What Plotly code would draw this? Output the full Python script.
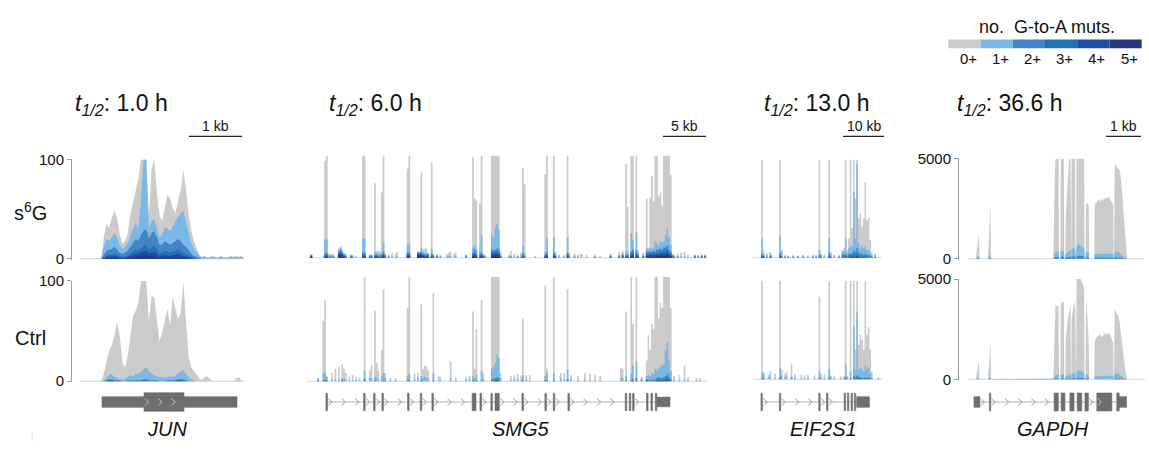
import numpy as np
import plotly.graph_objects as go

W, H = 1149, 449
FONT = "Liberation Sans, Arial, Helvetica, sans-serif"
INK = "#111111"

# ---------------------------------------------------------------- categories
LEVEL_LABELS = ["0+", "1+", "2+", "3+", "4+", "5+"]
LEVEL_COLORS = ["#cbcbcb", "#7ab9e6", "#4583c7", "#2271b5", "#1e4c9f", "#28377c"]
GENES = ["JUN", "SMG5", "EIF2S1", "GAPDH"]
HALF_LIVES = ["1.0", "6.0", "13.0", "36.6"]
SCALE_KB = [1, 5, 10, 1]
Y_MAX = [100, 100, 100, 5000]

# ---------------------------------------------------------------- JUN coverage (50-bp grid, kb)
JUN_X = [round(0.40 + 0.05 * i, 2) for i in range(55)]
JUN_S6G_L0 = [0, 22, 35, 31, 41, 49, 41, 25, 15, 18,
              25, 44, 57, 70, 80, 100, 100, 100, 44, 90,
              100, 67, 44, 38, 51, 64, 61, 51, 46, 57,
              70, 89, 70, 44, 28, 18, 10, 4, 2, 3,
              1, 2, 3, 2, 1, 3, 2, 1, 2, 3,
              2, 3, 2, 3, 0]
JUN_S6G_L1 = [0, 12, 20, 18, 22, 26, 22, 14, 10, 12,
              16, 24, 30, 36, 30, 60, 100, 100, 30, 38,
              40, 30, 22, 24, 32, 30, 28, 32, 38, 42,
              46, 48, 38, 26, 16, 10, 6, 3, 1, 2,
              1, 1, 2, 1, 1, 2, 1, 1, 1, 2,
              1, 2, 1, 2, 0]
JUN_S6G_L2 = [0, 4, 8, 9, 10, 12, 9, 6, 5, 6,
              8, 12, 16, 20, 18, 24, 28, 30, 20, 26,
              28, 22, 14, 14, 18, 16, 14, 16, 18, 20,
              18, 14, 12, 8, 5, 3, 2, 1] + [0] * 17
JUN_S6G_L3 = [0, 1, 3, 4, 4, 5, 4, 3, 2, 3,
              3, 5, 7, 9, 8, 11, 13, 14, 8, 12,
              13, 10, 6, 6, 8, 7, 6, 7, 8, 9,
              8, 6, 5, 3, 2, 1] + [0] * 19
JUN_S6G_L4 = [0, 0, 2, 2, 2, 3, 2, 1, 1, 1,
              2, 3, 4, 5, 5, 6, 7, 8, 5, 6,
              7, 5, 3, 3, 4, 3, 3, 4, 4, 5,
              4, 3, 2, 2, 1] + [0] * 20
JUN_S6G_L5 = [0, 0, 1, 1, 1, 1, 1, 0, 0, 0,
              1, 1, 1, 2, 2, 3, 3, 3, 2, 3,
              3, 2, 1, 1, 2, 1, 1, 1, 2, 2,
              1, 1, 1, 0, 0] + [0] * 20
JUN_CTRL_L0 = [0, 8, 20, 30, 36, 45, 59, 45, 18, 14,
               25, 45, 65, 70, 78, 100, 100, 100, 60, 85,
               84, 60, 40, 48, 62, 72, 55, 84, 72, 62,
               68, 100, 60, 24, 14, 10, 6, 3, 1, 4,
               5, 2, 0, 0, 0, 0, 0, 0, 0, 0,
               0, 3, 4, 1, 0]
JUN_CTRL_L1 = [0, 1, 4, 6, 7, 4, 3, 2, 2, 2,
               4, 6, 5, 7, 8, 9, 12, 14, 10, 8,
               6, 5, 4, 4, 3, 4, 5, 4, 6, 8,
               10, 11, 7, 4, 2, 1] + [0] * 19
JUN_CTRL_L2 = [0, 0, 1, 2, 2, 1, 1, 1, 0, 0,
               1, 1, 1, 1, 1, 1, 2, 2, 1, 1,
               1, 1, 0, 0, 0, 1, 1, 1, 1, 2,
               2, 2, 1] + [0] * 22
JUN_CTRL_L3 = [0, 0, 0, 1, 1, 0, 0, 0, 0, 0,
               0, 0, 0, 0, 0, 0, 0, 0, 0, 0,
               0, 0, 0, 0, 0, 0, 0, 0, 0, 1,
               1] + [0] * 24

# ---------------------------------------------------------------- SMG5 coverage (200-bp bins, kb)
SMG5_S6G_POS = [0.4, 1.8, 2.0, 2.2, 2.4, 2.6, 2.8, 3.0, 3.6, 3.8,
                4.0, 4.2, 4.4, 5.0, 5.2, 5.6, 6.4, 6.6, 7.2, 7.4,
                7.8, 8.0, 8.2, 8.4, 8.6, 8.8, 9.0, 9.4, 9.8, 10.2,
                10.4, 11.6, 11.8, 12.8, 13.0, 13.2, 13.4, 13.6, 13.8, 14.0,
                14.4, 14.6, 15.0, 15.4, 16.2, 16.4, 16.6, 17.0, 17.2, 18.4,
                19.2, 19.4, 19.6, 20.0, 20.2, 20.4, 20.6, 21.4, 21.6, 21.8,
                22.0, 22.2, 22.4, 23.4, 23.6, 24.0, 24.4, 24.8, 25.0, 25.2,
                26.4, 27.6, 27.8, 28.6, 28.8, 29.2, 29.8, 30.2, 30.4, 31.0,
                31.4, 31.8, 32.4, 33.4, 34.0, 35.2, 36.2, 36.6, 37.0, 37.2,
                37.6, 37.8, 38.2, 38.4, 39.0, 39.4, 39.6, 39.8, 40.0, 40.2,
                40.4, 40.6, 40.8, 41.0, 41.2, 41.4, 41.6, 41.8, 42.0, 42.2,
                42.4, 42.6, 43.0, 43.4, 43.8, 44.2, 45.0, 45.4, 45.8, 46.2]
SMG5_S6G_L0 = [3, 2, 95, 100, 4, 3, 4, 3, 8, 11,
               8, 5, 4, 3, 3, 2, 100, 100, 3, 3,
               73, 7, 7, 6, 64, 99, 4, 3, 5, 4,
               6, 87, 100, 6, 6, 84, 8, 9, 9, 5,
               94, 4, 3, 3, 4, 5, 6, 4, 5, 3,
               98, 58, 56, 53, 100, 4, 3, 100, 100, 100,
               100, 100, 6, 3, 7, 4, 3, 5, 88, 72,
               2, 82, 100, 100, 6, 3, 3, 100, 5, 4,
               3, 4, 3, 3, 2, 4, 6, 7, 92, 50,
               100, 100, 100, 8, 5, 58, 10, 59, 80, 55,
               100, 100, 60, 64, 51, 100, 100, 100, 100, 81,
               4, 3, 4, 5, 6, 3, 3, 3, 3, 3]
SMG5_S6G_L1 = [3, 0, 18, 18, 3, 3, 3, 2, 8, 10,
               7, 4, 3, 3, 2, 1, 19, 19, 3, 3,
               6, 5, 4, 4, 5, 15, 3, 2, 2, 1,
               1, 13, 13, 6, 6, 10, 6, 5, 5, 4,
               9, 3, 3, 2, 2, 2, 2, 1, 2, 3,
               10, 12, 8, 6, 22, 3, 2, 22, 20, 30,
               33, 28, 4, 2, 2, 2, 2, 3, 12, 5,
               1, 6, 19, 20, 4, 2, 2, 20, 3, 3,
               2, 3, 1, 2, 1, 3, 3, 5, 7, 5,
               24, 18, 25, 5, 3, 9, 8, 9, 9, 9,
               16, 14, 12, 16, 15, 16, 22, 29, 20, 13,
               3, 2, 2, 2, 2, 1, 3, 2, 3, 3]
SMG5_S6G_L2 = [3, 0, 4, 5, 1, 1, 1, 1, 6, 8,
               5, 3, 2, 2, 1, 0, 5, 5, 2, 2,
               3, 3, 2, 2, 3, 6, 2, 1, 0, 0,
               0, 5, 5, 5, 5, 6, 4, 3, 4, 3,
               4, 2, 2, 1, 0, 0, 0, 0, 0, 2,
               5, 8, 4, 3, 5, 2, 1, 8, 7, 8,
               9, 8, 2, 0, 1, 0, 1, 1, 4, 2,
               0, 3, 5, 5, 2, 0, 0, 5, 1, 1,
               0, 0, 0, 1, 0, 2, 2, 3, 3, 3,
               6, 8, 7, 3, 2, 6, 6, 6, 6, 7,
               6, 8, 8, 9, 8, 10, 10, 12, 8, 6,
               2, 1, 1, 0, 0, 0, 2, 1, 2, 2]
SMG5_S6G_L3 = [2, 0, 2, 3, 0, 0, 0, 0, 4, 6,
               4, 2, 1, 1, 0, 0, 3, 3, 1, 1,
               2, 2, 1, 0, 2, 3, 0, 0, 0, 0,
               0, 3, 3, 4, 4, 4, 3, 2, 2, 2,
               2, 1, 1, 0, 0, 0, 0, 0, 0, 0,
               3, 5, 2, 2, 3, 0, 0, 6, 5, 6,
               6, 5, 1, 0, 0, 0, 0, 0, 2, 0,
               0, 2, 3, 3, 1, 0, 0, 3, 0, 0,
               0, 0, 0, 0, 0, 1, 1, 2, 2, 1,
               4, 5, 4, 2, 1, 4, 4, 4, 4, 5,
               4, 5, 5, 6, 6, 7, 6, 8, 5, 4,
               1, 0, 0, 0, 0, 0, 1, 0, 1, 1]
SMG5_S6G_L4 = [2, 0, 1, 1, 0, 0, 0, 0, 3, 4,
               3, 1, 0, 0, 0, 0, 1, 2, 0, 0,
               1, 1, 0, 0, 1, 2, 0, 0, 0, 0,
               0, 2, 2, 3, 3, 3, 2, 1, 1, 0,
               1, 0, 0, 0, 0, 0, 0, 0, 0, 0,
               2, 3, 1, 0, 2, 0, 0, 4, 3, 4,
               4, 3, 0, 0, 0, 0, 0, 0, 1, 0,
               0, 1, 2, 2, 0, 0, 0, 2, 0, 0,
               0, 0, 0, 0, 0, 0, 0, 1, 1, 0,
               2, 3, 2, 0, 0, 2, 2, 3, 3, 3,
               3, 3, 3, 4, 4, 4, 4, 5, 3, 2,
               0, 0, 0, 0, 0, 0, 0, 0, 0, 0]
SMG5_S6G_L5 = [1, 0, 0, 1, 0, 0, 0, 0, 2, 2,
               1, 0, 0, 0, 0, 0, 0, 1, 0, 0,
               0, 0, 0, 0, 0, 1, 0, 0, 0, 0,
               0, 1, 0, 2, 2, 1, 0, 0, 0, 0,
               0, 0, 0, 0, 0, 0, 0, 0, 0, 0,
               1, 1, 0, 0, 1, 0, 0, 2, 2, 2,
               2, 2, 0, 0, 0, 0, 0, 0, 0, 0,
               0, 0, 0, 1, 0, 0, 0, 0, 0, 0,
               0, 0, 0, 0, 0, 0, 0, 0, 0, 0,
               1, 1, 1, 0, 0, 1, 0, 1, 1, 1,
               1, 2, 2, 2, 2, 2, 2, 3, 2, 1,
               0, 0, 0, 0, 0, 0, 0, 0, 0, 0]
SMG5_CTRL_POS = [1.2, 1.8, 2.0, 2.2, 2.8, 3.2, 3.6, 4.0, 4.2, 4.4,
                 4.8, 5.2, 5.6, 6.0, 6.6, 7.2, 7.4, 7.8, 8.0, 8.2,
                 8.6, 8.8, 9.0, 9.6, 10.2, 11.6, 11.8, 12.4, 12.8, 13.2,
                 13.4, 13.6, 13.8, 14.0, 14.6, 15.2, 15.4, 16.6, 17.2, 18.4,
                 18.8, 19.2, 19.4, 19.6, 20.2, 20.4, 21.4, 21.6, 21.8, 22.0,
                 22.2, 22.4, 23.6, 24.0, 24.4, 24.8, 25.0, 25.4, 25.8, 27.6,
                 27.8, 28.6, 29.4, 29.8, 30.2, 30.6, 31.4, 32.2, 32.8, 33.4,
                 34.0, 36.4, 36.6, 37.0, 37.6, 37.8, 38.2, 38.8, 39.4, 39.6,
                 39.8, 40.0, 40.2, 40.4, 40.6, 40.8, 41.0, 41.2, 41.4, 41.6,
                 41.8, 42.0, 42.2, 42.6, 43.2, 43.8, 44.2, 45.2, 45.6]
SMG5_CTRL_L0 = [3, 58, 78, 5, 8, 12, 14, 16, 12, 8,
                5, 6, 4, 3, 100, 10, 15, 68, 18, 10,
                30, 88, 8, 3, 3, 70, 100, 8, 8, 74,
                12, 15, 14, 10, 85, 5, 4, 19, 4, 4,
                5, 67, 12, 50, 78, 8, 100, 100, 100, 100,
                100, 8, 5, 6, 7, 5, 60, 6, 6, 92,
                12, 100, 8, 8, 88, 6, 5, 8, 7, 6,
                5, 13, 12, 67, 100, 55, 100, 4, 20, 44,
                30, 55, 50, 100, 100, 60, 75, 70, 100, 100,
                100, 100, 70, 5, 6, 15, 4, 3, 3]
SMG5_CTRL_L1 = [3, 8, 8, 4, 2, 2, 2, 3, 2, 2,
                1, 1, 1, 1, 10, 3, 3, 4, 3, 2,
                5, 8, 3, 1, 1, 5, 7, 2, 3, 5,
                3, 4, 3, 3, 8, 1, 1, 3, 1, 2,
                2, 5, 3, 6, 10, 2, 12, 14, 18, 26,
                22, 3, 1, 2, 2, 1, 6, 2, 1, 5,
                8, 8, 3, 2, 11, 2, 1, 2, 1, 1,
                1, 3, 3, 5, 7, 15, 19, 3, 5, 6,
                5, 8, 7, 12, 10, 12, 14, 15, 16, 30,
                38, 20, 10, 2, 1, 2, 1, 1, 1]
SMG5_CTRL_L2 = [1, 1, 1, 1, 0, 0, 0, 1, 0, 0,
                0, 0, 0, 0, 2, 0, 0, 1, 0, 0,
                0, 1, 0, 0, 0, 1, 1, 0, 0, 1,
                0, 0, 0, 0, 1, 0, 0, 0, 0, 0,
                0, 1, 0, 1, 1, 0, 2, 2, 3, 4,
                3, 0, 0, 0, 0, 0, 1, 0, 0, 1,
                1, 1, 0, 0, 2, 0, 0, 0, 0, 0,
                0, 0, 0, 1, 1, 2, 3, 1, 2, 1,
                1, 2, 1, 2, 3, 4, 3, 3, 4, 5,
                7, 4, 2, 0, 0, 0, 0, 0, 0]
SMG5_CTRL_L3 = [0, 0, 0, 0, 0, 0, 0, 0, 0, 0,
                0, 0, 0, 0, 0, 0, 0, 0, 0, 0,
                0, 0, 0, 0, 0, 0, 0, 0, 0, 0,
                0, 0, 0, 0, 0, 0, 0, 0, 0, 0,
                0, 0, 0, 0, 0, 0, 0, 0, 1, 1,
                0, 0, 0, 0, 0, 0, 0, 0, 0, 0,
                0, 0, 0, 0, 0, 0, 0, 0, 0, 0,
                0, 0, 0, 0, 0, 0, 0, 0, 1, 0,
                0, 0, 0, 0, 1, 1, 1, 1, 1, 2,
                3, 1, 0, 0, 0, 0, 0, 0, 0]

# ---------------------------------------------------------------- EIF2S1 coverage (400-bp bins, kb)
EIF2S1_S6G_POS = [2.0, 2.4, 3.2, 4.0, 4.4, 6.4, 6.8, 7.6, 8.4, 9.6,
                  10.8, 12.0, 13.2, 14.4, 15.2, 16.0, 16.4, 17.2, 18.4, 18.8,
                  19.6, 20.8, 21.6, 22.0, 22.4, 22.8, 23.2, 23.6, 24.0, 24.4,
                  24.8, 25.2, 25.6, 26.0, 26.4, 26.8, 27.2, 27.6, 28.0, 28.4,
                  28.8, 29.6]
EIF2S1_S6G_L0 = [100, 8, 5, 6, 3, 100, 8, 3, 2, 3,
                 2, 3, 2, 3, 3, 100, 4, 3, 100, 6,
                 3, 3, 8, 10, 100, 8, 20, 100, 30, 100,
                 60, 100, 40, 45, 31, 40, 77, 38, 41, 18,
                 5, 4]
EIF2S1_S6G_L1 = [20, 4, 3, 5, 2, 23, 6, 2, 2, 2,
                 2, 2, 2, 2, 2, 8, 3, 2, 20, 3,
                 2, 2, 6, 7, 20, 5, 10, 12, 12, 67,
                 20, 95, 15, 10, 12, 10, 12, 8, 8, 6,
                 3, 3]
EIF2S1_S6G_L2 = [4, 2, 1, 2, 0, 5, 2, 1, 1, 1,
                 1, 1, 0, 1, 1, 3, 1, 0, 5, 1,
                 0, 1, 3, 3, 4, 2, 4, 4, 5, 8,
                 6, 10, 6, 4, 4, 3, 4, 3, 3, 2,
                 1, 1]
EIF2S1_S6G_L3 = [2, 1, 0, 1, 0, 2, 0, 0, 0, 0,
                 0, 0, 0, 0, 0, 1, 0, 0, 2, 0,
                 0, 0, 1, 1, 2, 0, 1, 2, 2, 3,
                 2, 4, 2, 1, 1, 1, 1, 0, 0, 0,
                 0, 0]
EIF2S1_S6G_L4 = [1, 0, 0, 0, 0, 1, 0, 0, 0, 0,
                 0, 0, 0, 0, 0, 0, 0, 0, 1, 0,
                 0, 0, 0, 0, 0, 0, 0, 1, 0, 1,
                 0, 2, 0, 0, 0, 0, 0, 0, 0, 0,
                 0, 0]
EIF2S1_CTRL_POS = [2.0, 2.4, 3.6, 4.0, 5.2, 6.4, 6.8, 7.6, 8.0, 9.2,
                   10.0, 11.6, 12.4, 13.2, 14.8, 16.0, 16.4, 17.2, 18.4, 18.8,
                   19.6, 21.2, 22.0, 22.4, 22.8, 23.6, 24.4, 24.8, 25.2, 25.6,
                   26.0, 26.4, 26.8, 27.2, 27.6, 28.0, 28.4, 28.8, 30.4]
EIF2S1_CTRL_L0 = [100, 8, 5, 8, 6, 100, 10, 6, 8, 15,
                  6, 5, 4, 5, 4, 84, 6, 5, 100, 4,
                  3, 3, 3, 100, 4, 100, 100, 30, 100, 35,
                  45, 40, 30, 100, 45, 53, 30, 8, 2]
EIF2S1_CTRL_L1 = [7, 6, 2, 3, 1, 12, 4, 2, 3, 3,
                  2, 1, 1, 2, 1, 8, 2, 1, 11, 2,
                  1, 1, 2, 15, 2, 8, 54, 10, 68, 10,
                  12, 10, 8, 14, 10, 12, 6, 2, 1]
EIF2S1_CTRL_L2 = [1, 1, 0, 0, 0, 2, 0, 0, 0, 1,
                  0, 0, 0, 0, 0, 1, 0, 0, 2, 0,
                  0, 0, 0, 2, 0, 1, 3, 2, 4, 2,
                  2, 1, 1, 2, 1, 2, 1, 0, 0]

# ---------------------------------------------------------------- GAPDH coverage (kb)
GAPDH_X = [0.20, 0.22, 0.31, 0.33, 0.55, 0.57, 0.64, 0.66, 0.75, 1.00,
           1.30, 1.60, 1.90, 2.40, 2.44, 2.47, 2.50, 2.55, 2.59, 2.60,
           2.64, 2.65, 2.70, 2.74, 2.75, 2.78, 2.79, 2.84, 2.89, 2.93,
           2.94, 2.95, 2.96, 3.01, 3.06, 3.07, 3.09, 3.10, 3.14, 3.18,
           3.22, 3.27, 3.32, 3.33, 3.36, 3.37, 3.41, 3.45, 3.46, 3.61,
           3.62, 3.67, 3.72, 3.77, 3.82, 3.87, 3.92, 3.97, 4.02, 4.07,
           4.12, 4.15, 4.16, 4.17, 4.19, 4.24, 4.29, 4.34, 4.39, 4.44,
           4.49, 4.55]
GAPDH_S6G_L0 = [0, 0, 1230, 0, 0, 0, 2680, 0, 0, 0,
                0, 0, 0, 0, 0, 3500, 5000, 5000, 5000, 0,
                0, 5000, 5000, 5000, 0, 0, 2000, 3500, 5000, 5000,
                0, 0, 5000, 5000, 5000, 0, 0, 5000, 5000, 5000,
                5000, 5000, 5000, 0, 0, 2700, 2800, 2600, 0, 0,
                2700, 2800, 2950, 2850, 3000, 2900, 3050, 3000, 3100, 2900,
                2800, 2700, 0, 0, 4750, 4600, 4500, 4400, 3600, 2400,
                1100, 0]
GAPDH_S6G_L1 = [0, 0, 150, 0, 0, 0, 220, 0, 0, 0,
                0, 0, 0, 0, 0, 250, 330, 350, 350, 0,
                0, 380, 400, 390, 0, 0, 250, 300, 400, 420,
                0, 0, 480, 520, 500, 0, 0, 600, 720, 700,
                640, 600, 550, 0, 0, 350, 330, 300, 0, 0,
                220, 240, 240, 250, 250, 260, 250, 260, 260, 240,
                240, 230, 0, 0, 340, 360, 340, 300, 200, 100,
                40, 0]
GAPDH_S6G_L2 = [0, 0, 40, 0, 0, 0, 60, 0, 0, 0,
                0, 0, 0, 0, 0, 60, 80, 90, 90, 0,
                0, 90, 100, 100, 0, 0, 60, 70, 90, 100,
                0, 0, 110, 120, 110, 0, 0, 130, 150, 150,
                140, 130, 120, 0, 0, 80, 80, 70, 0, 0,
                60, 60, 60, 60, 60, 60, 60, 60, 60, 60,
                60, 50, 0, 0, 80, 80, 80, 70, 50, 30,
                10, 0]
GAPDH_CTRL_L0 = [0, 0, 930, 0, 0, 0, 1890, 0, 0, 30,
                 0, 30, 0, 0, 0, 2000, 3700, 3650, 3600, 0,
                 0, 3700, 3900, 3800, 0, 0, 1900, 2800, 3500, 3800,
                 0, 0, 3000, 3600, 3900, 0, 0, 5000, 5000, 5000,
                 5000, 4800, 4500, 0, 0, 4000, 3200, 1800, 0, 0,
                 1900, 2100, 2150, 2250, 2100, 2200, 2300, 2250, 2300, 2200,
                 1900, 1800, 0, 0, 3500, 3300, 3200, 2800, 2000, 1200,
                 500, 0]
GAPDH_CTRL_L1 = [0, 0, 80, 0, 0, 0, 150, 0, 0, 0,
                 0, 0, 0, 0, 0, 150, 200, 220, 220, 0,
                 0, 230, 250, 240, 0, 0, 150, 200, 250, 260,
                 0, 0, 280, 300, 300, 0, 0, 380, 450, 450,
                 400, 350, 300, 0, 0, 250, 220, 200, 0, 0,
                 150, 160, 170, 170, 180, 180, 180, 180, 190, 180,
                 160, 150, 0, 0, 250, 300, 280, 220, 150, 80,
                 30, 0]
GAPDH_CTRL_L2 = [0, 0, 20, 0, 0, 0, 30, 0, 0, 0,
                 0, 0, 0, 0, 0, 30, 40, 40, 40, 0,
                 0, 40, 40, 40, 0, 0, 30, 40, 40, 40,
                 0, 0, 50, 50, 50, 0, 0, 60, 70, 70,
                 60, 60, 50, 0, 0, 40, 40, 30, 0, 0,
                 30, 30, 30, 30, 30, 30, 30, 30, 30, 30,
                 30, 30, 0, 0, 40, 40, 40, 40, 30, 20,
                 10, 0]

# ---------------------------------------------------------------- gene models (kb)
JUN_EXON_START = [0.415, 1.208]
JUN_EXON_END = [2.962, 1.962]
JUN_EXON_HALF = [0.46, 0.8]
SMG5_EXON_START = [2.20, 6.58, 7.74, 8.71, 11.69, 13.17, 14.52, 19.20, 20.11, 21.38, 21.86,
                   24.99, 27.66, 28.63, 30.34, 37.00, 37.47, 37.86, 39.48, 39.99, 40.50, 40.70]
SMG5_EXON_END = [2.38, 6.76, 7.92, 8.89, 11.87, 13.35, 14.70, 19.65, 20.29, 21.56, 22.36,
                 25.17, 27.84, 28.81, 30.52, 37.18, 37.65, 38.04, 39.66, 40.17, 40.68, 42.21]
SMG5_EXON_HALF = [0.75] * 21 + [0.42]
EIF2S1_EXON_START = [1.94, 6.42, 16.03, 17.93, 22.23, 23.03, 23.93, 24.73, 25.30]
EIF2S1_EXON_END = [2.28, 6.76, 16.37, 18.27, 22.57, 23.37, 24.27, 25.07, 28.40]
EIF2S1_EXON_HALF = [0.75] * 8 + [0.46]
GAPDH_EXON_START = [0.17, 0.61, 2.46, 2.66, 2.91, 3.12, 3.34, 3.68, 4.25, 4.32]
GAPDH_EXON_END = [0.34, 0.65, 2.58, 2.77, 3.03, 3.25, 3.44, 4.11, 4.32, 4.53]
GAPDH_EXON_HALF = [0.46, 0.78, 0.78, 0.78, 0.78, 0.78, 0.78, 0.78, 0.78, 0.46]

# ---------------------------------------------------------------- page geometry (pixels)
X_ORIGIN_PX = [80, 307, 753, 968]
PX_PER_KB = [53.0, 8.6, 4.1, 35.0]
X_DOMAIN_PX = [(72, 244), (307, 707), (753, 885), (959, 1145)]
TRACK_END_PX = [244, 707, 882, 1145]
SCALEBAR_END_PX = [242, 706, 884, 1141]
TITLE_LEFT_PX = [73, 327, 762, 955]
GENE_LABEL_PX = [167, 521, 823, 1053]
ROW_TOP_PX = [[156, 152, 156, 155], [282, 278, 282, 280]]
ROW_BASE_PX = [[259, 258, 258, 259], [386, 386, 384, 384]]
MODEL_PX = (395.5, 419.5)
SHOW_Y_AXIS = [True, False, False, True]
CHEVRON_STEP_PX = 13.3
EXON_COLOR = "#6d6e71"

fig = go.Figure()


def aid(n):
    return "" if n == 1 else str(n)


def fx(px):
    return px / W


def fy(py):
    return 1 - py / H


# axes: per gene -> s6G row, Ctrl row, gene-model row
layout = {}
for g in range(4):
    x0, s = X_ORIGIN_PX[g], PX_PER_KB[g]
    dl, dr = X_DOMAIN_PX[g]
    xr = [(dl - x0) / s, (dr - x0) / s]
    for row in range(3):
        n = 3 * g + row + 1
        layout["xaxis" + aid(n)] = dict(domain=[fx(dl), fx(dr)], range=xr, visible=False,
                                        anchor="y" + aid(n), fixedrange=True)
        if row < 2:
            top, base = ROW_TOP_PX[row][g], ROW_BASE_PX[row][g]
            pad = 1.0
            ymax = Y_MAX[g]
            lo = -pad * ymax / (base - top)
            layout["yaxis" + aid(n)] = dict(
                domain=[fy(base + pad), fy(top)], range=[lo, ymax], anchor="x" + aid(n),
                visible=SHOW_Y_AXIS[g], showline=True, linecolor="#9d9d9d", linewidth=1,
                ticks="outside", ticklen=4, tickwidth=1, tickcolor="#9d9d9d",
                tickvals=[0, ymax], ticktext=["0", str(ymax)],
                tickfont=dict(family=FONT, size=15, color=INK),
                showgrid=False, zeroline=False, fixedrange=True)
        else:
            layout["yaxis" + aid(n)] = dict(domain=[fy(MODEL_PX[1]), fy(MODEL_PX[0])],
                                            range=[-1, 1], visible=False,
                                            anchor="x" + aid(n), fixedrange=True)


def add_baseline(n, g):
    x_end = (TRACK_END_PX[g] - X_ORIGIN_PX[g]) / PX_PER_KB[g]
    fig.add_trace(go.Scatter(x=[0, x_end], y=[0, 0], mode="lines",
                             line=dict(color="#d6d6d6", width=1),
                             xaxis="x" + aid(n), yaxis="y" + aid(n), hoverinfo="skip"))


def add_area(n, x, series):
    for color, vals in series:
        assert len(vals) == len(x)
        fig.add_trace(go.Scatter(x=x, y=vals, mode="lines", line=dict(width=0, color=color),
                                 fill="tozeroy", fillcolor=color,
                                 xaxis="x" + aid(n), yaxis="y" + aid(n), hoverinfo="skip"))


def add_steps(n, bw, pos, series):
    nbins = int(round(max(pos) / bw)) + 2
    grid = np.arange(nbins) * bw
    for color, vals in series:
        assert len(vals) == len(pos)
        y = np.zeros(nbins)
        for p, v in zip(pos, vals):
            y[int(round(p / bw))] = v
        fig.add_trace(go.Scatter(x=grid, y=y, mode="lines",
                                 line=dict(width=0, color=color, shape="hv"),
                                 fill="tozeroy", fillcolor=color,
                                 xaxis="x" + aid(n), yaxis="y" + aid(n), hoverinfo="skip"))


def chevron_trace(n, tips, s, color):
    w = 3.6 / s
    xs, ys = [], []
    for c in tips:
        xs += [c - w, c, c - w, None]
        ys += [0.32, 0, -0.32, None]
    if xs:
        fig.add_trace(go.Scatter(x=xs, y=ys, mode="lines", line=dict(color=color, width=1),
                                 xaxis="x" + aid(n), yaxis="y" + aid(n), hoverinfo="skip"))


def add_model(n, s, starts, ends, halves, inner):
    lo, hi = min(starts), max(ends)
    fig.add_trace(go.Scatter(x=[lo, hi], y=[0, 0], mode="lines",
                             line=dict(color="#b4b4b4", width=1),
                             xaxis="x" + aid(n), yaxis="y" + aid(n), hoverinfo="skip"))
    merged = []
    for a, b in sorted(zip(starts, ends)):
        if merged and a <= merged[-1][1] + 1e-9:
            merged[-1][1] = max(merged[-1][1], b)
        else:
            merged.append([a, b])
    step = CHEVRON_STEP_PX / s
    tips = []
    for (a0, a1), (b0, b1) in zip(merged[:-1], merged[1:]):
        c = a1 + 4.5 / s
        while c <= b0 - 1.0 / s:
            tips.append(c)
            c += step
    chevron_trace(n, tips, s, "#9f9f9f")
    xs, ys = [], []
    for a, b, h in zip(starts, ends, halves):
        xs += [a, b, b, a, a, None]
        ys += [-h, -h, h, h, -h, None]
    fig.add_trace(go.Scatter(x=xs, y=ys, mode="lines", line=dict(width=0.6, color=EXON_COLOR),
                             fill="toself", fillcolor=EXON_COLOR,
                             xaxis="x" + aid(n), yaxis="y" + aid(n), hoverinfo="skip"))
    tips = []
    for i in inner:
        c = starts[i] + 4.5 / s
        while c <= ends[i] - 2.0 / s:
            tips.append(c)
            c += step
    chevron_trace(n, tips, s, "#c2c2c2")


# coverage tracks
cols = LEVEL_COLORS
# JUN
add_baseline(1, 0)
add_area(1, JUN_X, zip(cols, [JUN_S6G_L0, JUN_S6G_L1, JUN_S6G_L2, JUN_S6G_L3, JUN_S6G_L4, JUN_S6G_L5]))
add_baseline(2, 0)
add_area(2, JUN_X, zip(cols, [JUN_CTRL_L0, JUN_CTRL_L1, JUN_CTRL_L2, JUN_CTRL_L3]))
# SMG5
add_baseline(4, 1)
add_steps(4, 0.2, SMG5_S6G_POS, zip(cols, [SMG5_S6G_L0, SMG5_S6G_L1, SMG5_S6G_L2,
                                           SMG5_S6G_L3, SMG5_S6G_L4, SMG5_S6G_L5]))
add_baseline(5, 1)
add_steps(5, 0.2, SMG5_CTRL_POS, zip(cols, [SMG5_CTRL_L0, SMG5_CTRL_L1, SMG5_CTRL_L2, SMG5_CTRL_L3]))
# EIF2S1
add_baseline(7, 2)
add_steps(7, 0.4, EIF2S1_S6G_POS, zip(cols, [EIF2S1_S6G_L0, EIF2S1_S6G_L1, EIF2S1_S6G_L2,
                                             EIF2S1_S6G_L3, EIF2S1_S6G_L4]))
add_baseline(8, 2)
add_steps(8, 0.4, EIF2S1_CTRL_POS, zip(cols, [EIF2S1_CTRL_L0, EIF2S1_CTRL_L1, EIF2S1_CTRL_L2]))
# GAPDH
add_baseline(10, 3)
add_area(10, GAPDH_X, zip(cols, [GAPDH_S6G_L0, GAPDH_S6G_L1, GAPDH_S6G_L2]))
add_baseline(11, 3)
add_area(11, GAPDH_X, zip(cols, [GAPDH_CTRL_L0, GAPDH_CTRL_L1, GAPDH_CTRL_L2]))

# gene models
add_model(3, PX_PER_KB[0], JUN_EXON_START, JUN_EXON_END, JUN_EXON_HALF, [1])
add_model(6, PX_PER_KB[1], SMG5_EXON_START, SMG5_EXON_END, SMG5_EXON_HALF, [])
add_model(9, PX_PER_KB[2], EIF2S1_EXON_START, EIF2S1_EXON_END, EIF2S1_EXON_HALF, [])
add_model(12, PX_PER_KB[3], GAPDH_EXON_START, GAPDH_EXON_END, GAPDH_EXON_HALF, [7])

shapes = []
annotations = []

# scale bars and titles
for g in range(4):
    n = 3 * g + 1
    x0, s = X_ORIGIN_PX[g], PX_PER_KB[g]
    end_kb = (SCALEBAR_END_PX[g] - x0) / s
    start_kb = end_kb - SCALE_KB[g]
    shapes.append(dict(type="line", xref="x" + aid(n), yref="paper",
                       x0=start_kb, x1=end_kb, y0=fy(132), y1=fy(132),
                       line=dict(color="#222222", width=1.2)))
    annotations.append(dict(xref="x" + aid(n), yref="paper", x=(start_kb + end_kb) / 2, y=fy(121.5),
                            text=f"{SCALE_KB[g]} kb", showarrow=False, xanchor="center",
                            yanchor="middle", font=dict(family=FONT, size=14, color=INK)))
    annotations.append(dict(xref="paper", yref="paper", x=fx(TITLE_LEFT_PX[g]), y=fy(99),
                            text=f"<i>t</i><sub><i>1/2</i></sub>: {HALF_LIVES[g]} h",
                            showarrow=False, xanchor="left", yanchor="middle",
                            font=dict(family=FONT, size=23, color=INK)))
    annotations.append(dict(xref="paper", yref="paper", x=fx(GENE_LABEL_PX[g]), y=fy(435.5),
                            text=f"<i>{GENES[g]}</i>", showarrow=False, xanchor="center",
                            yanchor="middle", font=dict(family=FONT, size=20, color=INK)))

# row labels
annotations.append(dict(xref="paper", yref="paper", x=fx(12), y=fy(210),
                        text="s<sup>6</sup>G", showarrow=False, xanchor="left", yanchor="middle",
                        font=dict(family=FONT, size=20, color=INK)))
annotations.append(dict(xref="paper", yref="paper", x=fx(12.5), y=fy(341),
                        text="Ctrl", showarrow=False, xanchor="left", yanchor="middle",
                        font=dict(family=FONT, size=20, color=INK)))

# colour key
KEY_LEFT, KEY_SEG, KEY_TOP, KEY_BOTTOM = 948.3, 32.23, 31.7, 40.7
for i, (lab, col) in enumerate(zip(LEVEL_LABELS, LEVEL_COLORS)):
    shapes.append(dict(type="rect", xref="paper", yref="paper",
                       x0=fx(KEY_LEFT + i * KEY_SEG), x1=fx(KEY_LEFT + (i + 1) * KEY_SEG),
                       y0=fy(KEY_BOTTOM), y1=fy(KEY_TOP), fillcolor=col, line=dict(width=0)))
    annotations.append(dict(xref="paper", yref="paper", x=fx(968 + 32.2 * i), y=fy(51.5),
                            text=lab, showarrow=False, xanchor="center", yanchor="middle",
                            font=dict(family=FONT, size=15, color=INK)))
annotations.append(dict(xref="paper", yref="paper", x=fx(1047), y=fy(19),
                        text="no.  G-to-A muts.", showarrow=False, xanchor="center",
                        yanchor="middle", font=dict(family=FONT, size=18, color=INK)))

# small mark at the lower-left corner
shapes.append(dict(type="rect", xref="paper", yref="paper", x0=fx(31.5), x1=fx(33),
                   y0=fy(449), y1=fy(439), fillcolor="#ececf2", line=dict(width=0)))

fig.update_layout(
    width=W, height=H, margin=dict(l=0, r=0, t=0, b=0),
    paper_bgcolor="white", plot_bgcolor="white", showlegend=False,
    font=dict(family=FONT, color=INK),
    shapes=shapes, annotations=annotations, **layout)

fig.write_html("out.html")
